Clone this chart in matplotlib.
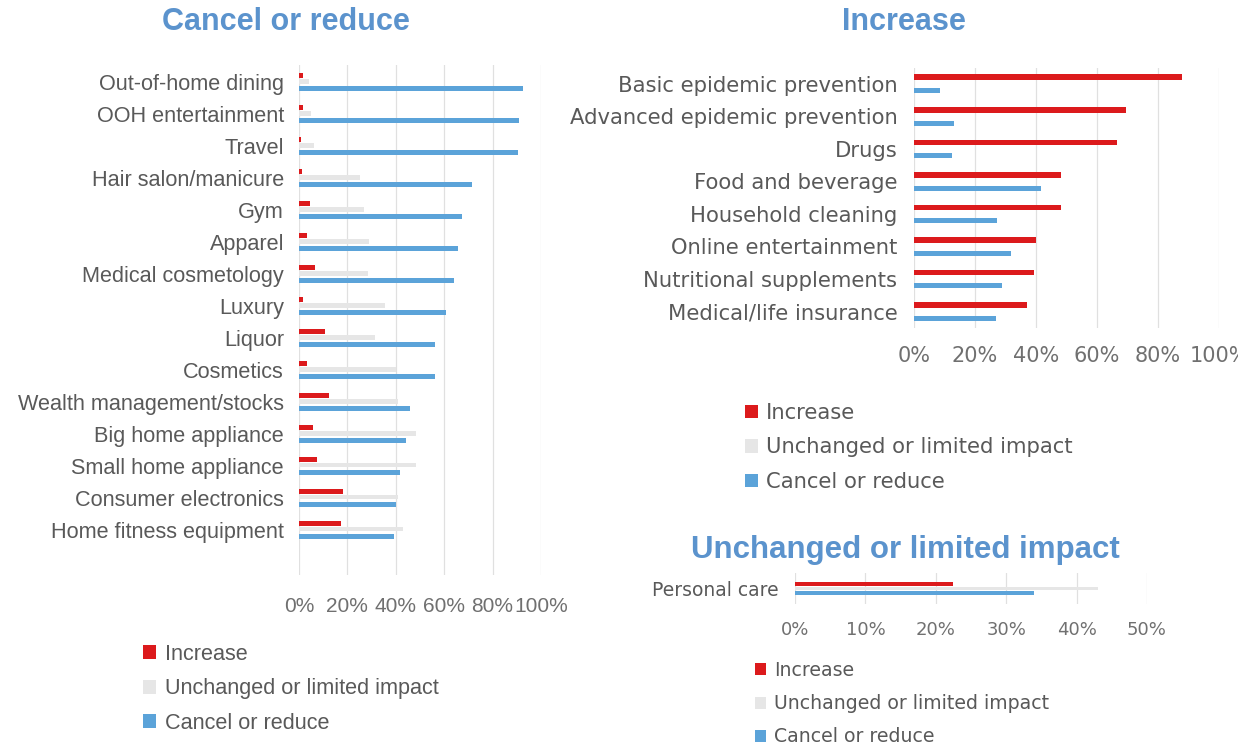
import matplotlib
matplotlib.use("Agg")
import matplotlib.pyplot as plt
import numpy as np
from matplotlib.patches import Patch
from matplotlib.ticker import FuncFormatter

# ---- data (shares of respondents, %) ----
cancel_categories = [
    "Out-of-home dining", "OOH entertainment", "Travel", "Hair salon/manicure",
    "Gym", "Apparel", "Medical cosmetology", "Luxury", "Liquor", "Cosmetics",
    "Wealth management/stocks", "Big home appliance", "Small home appliance",
    "Consumer electronics", "Home fitness equipment",
]
cancel_increase = [1.5, 1.5, 0.7, 1.2, 4.4, 3.5, 6.5, 1.5, 10.6, 3.5, 12.4, 5.9, 7.4, 18.3, 17.3]
cancel_unchanged = [4, 5, 6.2, 25.4, 26.9, 29.1, 28.4, 35.7, 31.3, 40, 41, 48.3, 48.3, 41, 43.1]
cancel_cancel = [92.6, 91.1, 90.4, 71.5, 67.5, 65.6, 64.1, 60.6, 56.4, 56.1, 45.8, 44.3, 41.7, 40.2, 39.4]

increase_categories = [
    "Basic epidemic prevention", "Advanced epidemic prevention", "Drugs",
    "Food and beverage", "Household cleaning", "Online entertainment",
    "Nutritional supplements", "Medical/life insurance",
]
increase_increase = [87.8, 69.5, 66.5, 48.1, 48.1, 40.0, 39.3, 36.9]
increase_cancel = [8.5, 13.0, 12.3, 41.7, 27.2, 31.8, 28.7, 26.8]

unchanged_categories = ["Personal care"]
unchanged_increase = [22.5]
unchanged_unchanged = [43.0]
unchanged_cancel = [34.0]

series_names = ["Increase", "Unchanged or limited impact", "Cancel or reduce"]

# ---- styling ----
RED = "#dc1a1c"
GREY = "#e6e6e6"
BLUE = "#5ba3d9"
TITLE = "#5b93cd"
LABEL = "#595959"
TICK = "#707070"
GRID = "#e0e0e0"

W, H = 1238, 748
fig = plt.figure(figsize=(W / 100, H / 100), dpi=100)
fig.patch.set_facecolor("white")


def px_axes(x0, x1, y_top, y_bot):
    return fig.add_axes([x0 / W, 1 - y_bot / H, (x1 - x0) / W, (y_bot - y_top) / H])


pct = FuncFormatter(lambda v, _: f"{v:.0f}%")


def style(ax, family, ysize, xsize, ypad, xpad):
    for s in ax.spines.values():
        s.set_visible(False)
    ax.xaxis.set_major_formatter(pct)
    ax.tick_params(axis="both", length=0)
    ax.tick_params(axis="y", pad=ypad, labelsize=ysize, labelcolor=LABEL)
    ax.tick_params(axis="x", pad=xpad, labelsize=xsize, labelcolor=TICK)
    for lab in ax.get_yticklabels() + ax.get_xticklabels():
        lab.set_family(family)
    ax.grid(axis="x", color=GRID, lw=0.9)
    ax.set_axisbelow(True)


# ---- Cancel or reduce ----
ax1 = px_axes(299, 541, 65, 575)
y = np.arange(len(cancel_categories))
ax1.barh(y - 0.2, cancel_increase, height=0.16, color=RED)
ax1.barh(y - 0.02, cancel_unchanged, height=0.14, color=GREY)
ax1.barh(y + 0.2, cancel_cancel, height=0.16, color=BLUE)
ax1.set_yticks(y, cancel_categories)
ax1.set_xlim(0, 100)
ax1.set_xticks(np.arange(0, 101, 20))
ax1.set_ylim(15.41, -0.53)
style(ax1, "Liberation Sans", 15.6, 15, 10.8, 16)

# ---- Increase ----
ax2 = px_axes(914, 1219, 67.5, 327.8)
y2 = np.arange(len(increase_categories))
ax2.barh(y2 - 0.2, increase_increase, height=0.17, color=RED)
ax2.barh(y2 + 0.21, increase_cancel, height=0.15, color=BLUE)
ax2.set_yticks(y2, increase_categories)
ax2.set_xlim(0, 100)
ax2.set_xticks(np.arange(0, 101, 20))
ax2.set_ylim(7.5, -0.5)
style(ax2, "DejaVu Sans", 15.2, 15, 12, 13)

# ---- Unchanged or limited impact ----
ax3 = px_axes(795, 1147, 573, 604)
y3 = np.arange(len(unchanged_categories))
ax3.barh(y3 - 0.15, unchanged_increase, height=0.13, color=RED)
ax3.barh(y3, unchanged_unchanged, height=0.1, color=GREY)
ax3.barh(y3 + 0.15, unchanged_cancel, height=0.13, color=BLUE)
ax3.set_yticks(y3, unchanged_categories)
ax3.set_xlim(0, 50)
ax3.set_xticks(np.arange(0, 51, 10))
ax3.set_ylim(0.5, -0.5)
style(ax3, "DejaVu Sans", 13.5, 13, 12, 12)

# ---- titles ----
fig.text(286 / W, 1 - 22 / H, "Cancel or reduce", ha="center", va="center",
         fontsize=22, fontweight="bold", color=TITLE, family="Liberation Sans")
fig.text(904 / W, 1 - 22 / H, "Increase", ha="center", va="center",
         fontsize=22, fontweight="bold", color=TITLE, family="Liberation Sans")
fig.text(905 / W, 1 - 550 / H, "Unchanged or limited impact", ha="center", va="center",
         fontsize=22.5, fontweight="bold", color=TITLE, family="Liberation Sans")

# ---- legends ----
handles = [Patch(facecolor=c, edgecolor="none", label=n)
           for c, n in zip([RED, GREY, BLUE], series_names)]


def add_legend(x, y_top, family, size, spacing):
    leg = fig.legend(handles=handles, loc="upper left",
                     bbox_to_anchor=(x / W, 1 - y_top / H),
                     frameon=False, handlelength=0.6, handleheight=0.6,
                     handletextpad=0.4, labelspacing=spacing,
                     borderpad=0, borderaxespad=0,
                     prop={"family": family, "size": size})
    for t in leg.get_texts():
        t.set_color(LABEL)
    return leg


add_legend(143, 644, "Liberation Sans", 15.6, 0.62)
add_legend(745, 403, "DejaVu Sans", 15.2, 0.68)
add_legend(755, 661, "DejaVu Sans", 13.6, 0.75)

fig.savefig("out.png", dpi=100, facecolor="white")
